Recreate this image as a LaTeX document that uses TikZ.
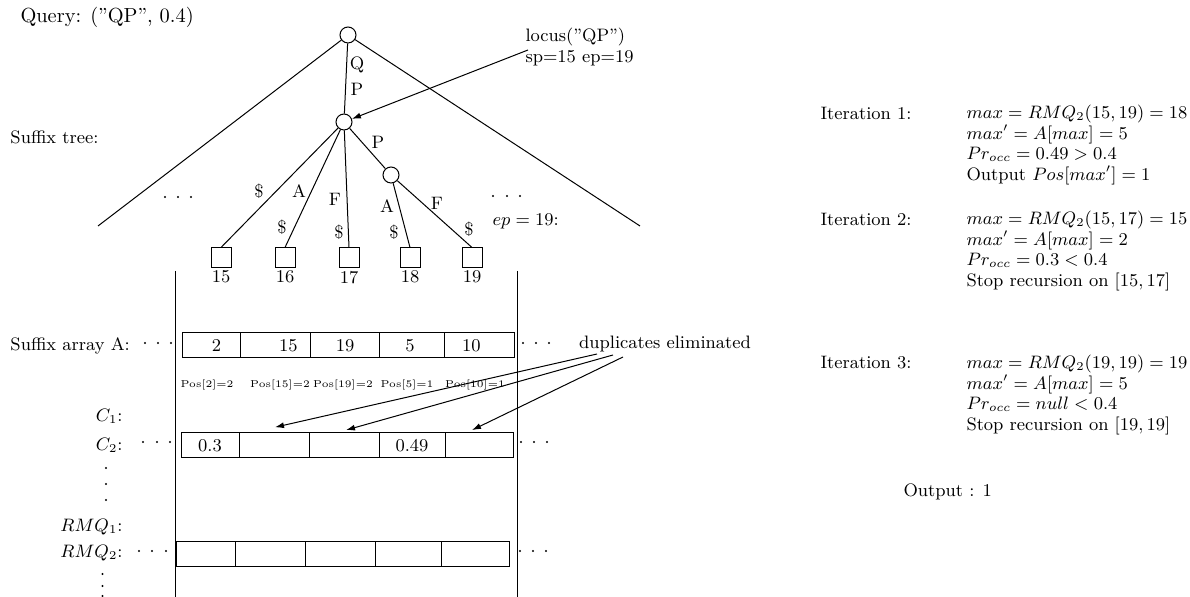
\documentclass[tikz,border=0pt]{standalone}
\usetikzlibrary{arrows.meta,calc}
\begin{document}
\begin{tikzpicture}[x=0.5pt,y=-0.5pt,
  every node/.style={font=\fontsize{9}{10.2}\selectfont},
  line width=0.5pt,
  tnode/.style={circle,draw,minimum size=8pt,inner sep=0pt},
  leaf/.style={rectangle,draw,minimum size=10pt,inner sep=0pt},
  cell/.style={rectangle,draw,minimum height=12.5pt,inner sep=0pt},
  elab/.style={inner sep=0pt},
  txt/.style={inner sep=0pt},
  arr/.style={-{Latex[length=4.5pt,width=3pt]}},
  poslab/.style={inner sep=0pt,font=\fontsize{5}{6}\selectfont},
  llab/.style={inner sep=1pt}
]
\useasboundingbox (0,0) rectangle (1190,597);

% titles
\node[txt,anchor=west,font=\fontsize{10.2}{12}\selectfont] (query) at (20,17) {Query: (''QP'', 0.4)};
\node[txt,anchor=west] (stree) at (10,137) {Suffix tree:};

% tree
\node[tnode] (root) at (348,35) {};
\node[tnode] (mid) at (344,122) {};
\node[tnode] (n2) at (391,175) {};
\node[leaf,label={[llab]below:15}] (l15) at (221,258) {};
\node[leaf,label={[llab]below:16}] (l16) at (285,258) {};
\node[leaf,label={[llab]below:17}] (l17) at (349,258) {};
\node[leaf,label={[llab]below:18}] (l18) at (410,258) {};
\node[leaf,label={[llab]below:19}] (l19) at (472,258) {};
\coordinate (lend) at (98,226);
\coordinate (rend) at (640,226);
\draw (root) -- (lend);
\draw (root) -- (rend);
\draw (root) -- (mid);
\draw (mid) -- (l15.north);
\draw (mid) -- (l16.north);
\draw (mid) -- (l17.north);
\draw (mid) -- (n2);
\draw (n2) -- (l18.north);
\draw (n2) -- (l19.north);

% edge labels
\node[elab] (eq) at (357,65) {Q};
\node[elab] (ep1) at (357,89) {P};
\node[elab] (ed1) at (259,191) {\$};
\node[elab] (ea1) at (299,191) {A};
\node[elab] (ed2) at (282,227) {\$};
\node[elab] (ef1) at (335,199) {F};
\node[elab] (ed3) at (339,232) {\$};
\node[elab] (ep2) at (378,142) {P};
\node[elab] (ea2) at (387,206) {A};
\node[elab] (ed4) at (394,232) {\$};
\node[elab] (ef2) at (437,203) {F};
\node[elab] (ed5) at (469,229) {\$};

% tree dots
\foreach \x in {165,178,191} \fill (\x,197) circle (0.55pt);
\foreach \x in {493,507,520} \fill (\x,196) circle (0.55pt);
\node[txt,anchor=west] (epl) at (492,221) {$ep = 19$:};

% locus
\node[txt,anchor=west,align=left] (locus) at (525,47) {locus(''QP'')\\sp=15 ep=19};
\coordinate (lstart) at (528,50);
\draw[arr] (lstart) -- (mid);

% vertical lines
\draw (175,271) -- (175,597);
\draw (517.7,271) -- (517.7,597);

% suffix array A
\node[txt,anchor=west] (salab) at (10,346) {Suffix array A:};
\foreach \x in {145,158,171} \fill (\x,343) circle (0.55pt);
\foreach \x in {523,536,549} \fill (\x,343) circle (0.55pt);
\node[cell,minimum width=29pt] (a1) at (211,345.5) {\hspace*{5.6pt}2};
\node[cell,minimum width=35.35pt] (a2) at (275.35,345.5) {\hspace*{13pt}15};
\node[cell,minimum width=34.45pt] (a3) at (345.15,345.5) {19};
\node[cell,minimum width=32.5pt] (a4) at (412.1,345.5) {5\hspace*{2pt}};
\node[cell,minimum width=34.7pt] (a5) at (479.3,345.5) {10\hspace*{8pt}};
\node[poslab] (p1) at (207,385) {Pos[2]=2};
\node[poslab] (p2) at (280,385) {Pos[15]=2};
\node[poslab] (p3) at (343,385) {Pos[19]=2};
\node[poslab] (p4) at (407,385) {Pos[5]=1};
\node[poslab] (p5) at (475,385) {Pos[10]=1};

% C rows
\node[txt,anchor=east] (c1lab) at (123,416) {$C_1$:};
\node[txt,anchor=east] (c2lab) at (123,445) {$C_2$:};
\foreach \x in {143,157,170} \fill (\x,442) circle (0.55pt);
\foreach \x in {521,534,547} \fill (\x,442) circle (0.55pt);
\node[cell,minimum width=29pt] (c21) at (210,445.5) {0.3};
\node[cell,minimum width=35pt] (c22) at (274,445.5) {};
\node[cell,minimum width=35pt] (c23) at (344,445.5) {};
\node[cell,minimum width=33pt] (c24) at (412,445.5) {0.49};
\node[cell,minimum width=34pt] (c25) at (479,445.5) {};
\foreach \y in {468,484,500} \fill (106,\y) circle (0.55pt);

% duplicates
\node[txt] (dup) at (665,344) {duplicates eliminated};
\coordinate (d1) at (597,354);
\coordinate (d2) at (613,355);
\coordinate (d3) at (623,357);
\draw[arr] (d1) -- ([shift={(1,-5.25)}]c22.north);
\draw[arr] (d2) -- ([shift={(2,-2.4)}]c23.north);
\draw[arr] (d3) -- ([shift={(-7,-2.4)}]c25.north);

% RMQ rows
\node[txt,anchor=east] (r1lab) at (123,527) {$RMQ_1$:};
\node[txt,anchor=east] (r2lab) at (123,553) {$RMQ_2$:};
\foreach \x in {139,152,166} \fill (\x,551) circle (0.55pt);
\foreach \x in {520,533,546} \fill (\x,551) circle (0.55pt);
\node[cell,minimum width=29.3pt] (r1) at (205.7,554) {};
\node[cell,minimum width=35pt] (r2) at (270,554) {};
\node[cell,minimum width=35pt] (r3) at (340,554) {};
\node[cell,minimum width=33pt] (r4) at (408,554) {};
\node[cell,minimum width=34pt] (r5) at (475,554) {};
\foreach \y in {574,586,596} \fill (102.5,\y) circle (0.55pt);

% right column
\node[txt,anchor=west] (it1) at (820,113) {Iteration 1:};
\node[txt,anchor=west,align=left] (ex1) at (966,145) {$max = RMQ_2(15,19) = 18$\\$max' = A[max] = 5$\\$Pr_{occ} = 0.49 > 0.4$\\Output $Pos[max'] = 1$};
\node[txt,anchor=west] (it2) at (820,219) {Iteration 2:};
\node[txt,anchor=west,align=left] (ex2) at (966,251) {$max = RMQ_2(15,17) = 15$\\$max' = A[max] = 2$\\$Pr_{occ} = 0.3 < 0.4$\\Stop recursion on $[15,17]$};
\node[txt,anchor=west] (it3) at (820,363) {Iteration 3:};
\node[txt,anchor=west,align=left] (ex3) at (966,395) {$max = RMQ_2(19,19) = 19$\\$max' = A[max] = 5$\\$Pr_{occ} = null < 0.4$\\Stop recursion on $[19,19]$};
\node[txt,anchor=west] (outp) at (903,492) {Output : 1};
\end{tikzpicture}
\end{document}
